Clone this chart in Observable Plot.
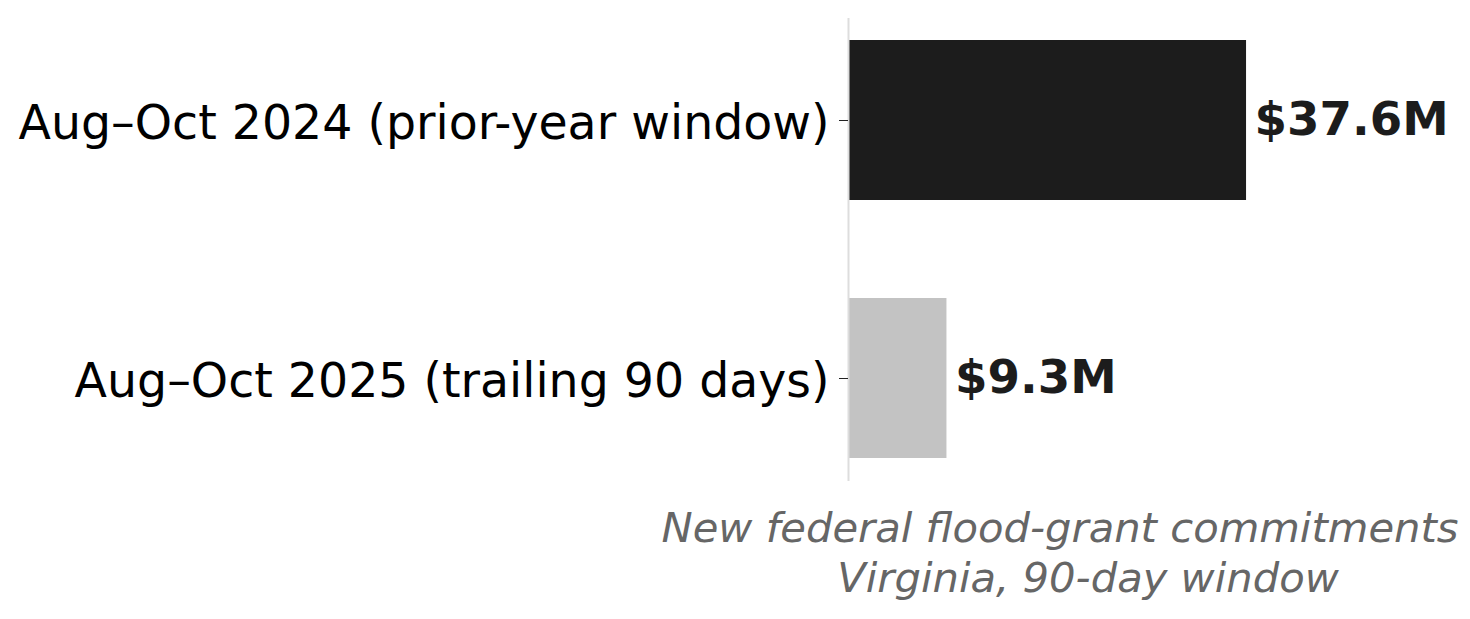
<!DOCTYPE html>
<html>
<head>
<meta charset="utf-8">
<script src="https://cdn.jsdelivr.net/npm/d3@7"></script>
<script src="https://cdn.jsdelivr.net/npm/@observablehq/plot@0.6"></script>
<style>
  html, body { margin: 0; padding: 0; background: #fff; }
  #wrap { position: relative; width: 1470px; height: 619px; font-family: "DejaVu Sans", sans-serif; }
  .cap { position: absolute; transform: translateX(-50%); white-space: nowrap; font-style: italic; font-size: 41.7px; line-height: 50px; color: #666666; }
</style>
</head>
<body>
<div id="wrap">
  <div id="chart"></div>
  <div class="cap" id="cap1" style="left:1060px; top:503px;"></div>
  <div class="cap" id="cap2" style="left:1088px; top:553px;"></div>
</div>
<script>
const categories = ["Aug–Oct 2024 (prior-year window)", "Aug–Oct 2025 (trailing 90 days)"];
const values = [37.6, 9.3];
const valueLabels = ["$37.6M", "$9.3M"];
const barColors = ["#1c1c1c", "#c3c3c3"];
const captionLines = ["New federal flood-grant commitments", "Virginia, 90-day window"];

const data = categories.map((c, i) => ({category: c, value: values[i], label: valueLabels[i], color: barColors[i]}));

const chart = Plot.plot({
  width: 1470,
  height: 490,
  marginLeft: 848,
  marginRight: 8,
  marginTop: 18,
  marginBottom: 9,
  style: {fontFamily: "DejaVu Sans", fontSize: "47.4px", color: "#000", background: "#fff"},
  x: {domain: [0, 58], axis: null},
  y: {domain: categories, paddingInner: 0.378, paddingOuter: 0.083, label: null},
  marks: [
    Plot.barX(data, {x: "value", y: "category", fill: "color"}),
    Plot.ruleX([0], {stroke: "#dddddd", strokeWidth: 2}),
    Plot.axisY({tickSize: 9, text: null, label: null, stroke: "#222"}),
    Plot.axisY({tickSize: 0, tickPadding: 19, fontSize: 47.4, label: null, fill: "#000", dy: 3}),
    Plot.text(data, {x: "value", y: "category", text: "label", dx: 8, textAnchor: "start", fontWeight: "bold", fontSize: 46.7, fill: "#1c1c1c"})
  ]
});
document.getElementById("chart").appendChild(chart);
document.getElementById("cap1").textContent = captionLines[0];
document.getElementById("cap2").textContent = captionLines[1];
</script>
</body>
</html>
